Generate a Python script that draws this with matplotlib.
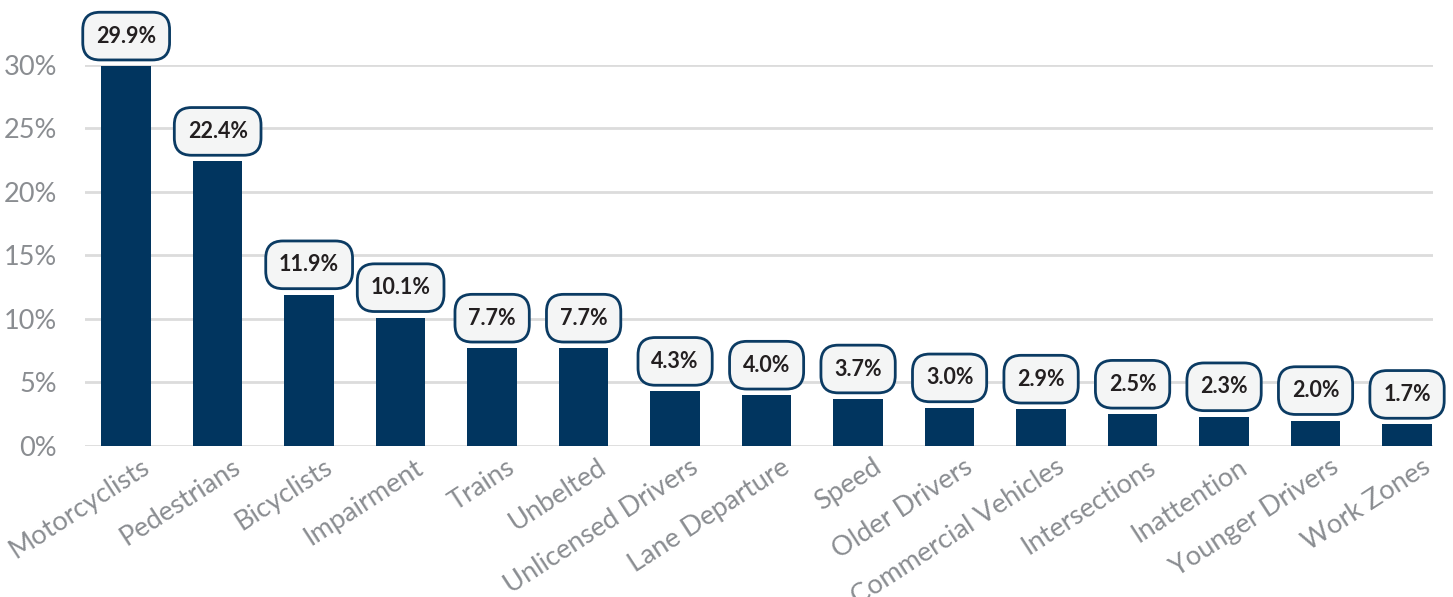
import matplotlib.pyplot as plt
from matplotlib.ticker import FuncFormatter
from matplotlib.transforms import ScaledTranslation

plt.rcParams['font.family'] = ['Lato', 'DejaVu Sans']

categories = ['Motorcyclists', 'Pedestrians', 'Bicyclists', 'Impairment', 'Trains',
              'Unbelted', 'Unlicensed Drivers', 'Lane Departure', 'Speed', 'Older Drivers',
              'Commercial Vehicles', 'Intersections', 'Inattention', 'Younger Drivers', 'Work Zones']
shares = [29.9, 22.4, 11.9, 10.1, 7.7, 7.7, 4.3, 4.0, 3.7, 3.0, 2.9, 2.5, 2.3, 2.0, 1.7]
yticks = [0, 5, 10, 15, 20, 25, 30]

navy = '#01355f'
grey_txt = '#8a8d91'

fig = plt.figure(figsize=(14.53, 5.97), dpi=100)
ax = fig.add_axes([0.0585, 0.2529, 0.9275, 0.6385])

x = range(len(categories))
ax.bar(x, shares, width=0.54, color=navy, zorder=2)

# value bubbles above each bar
for i, v in zip(x, shares):
    ax.annotate(f'{v:.1f}%', xy=(i, v), xytext=(0, 30), textcoords='offset pixels',
                ha='center', va='center', fontsize=15.5, fontweight='bold', color='#231f20',
                bbox=dict(boxstyle='round,pad=0.62,rounding_size=0.8', fc='#f4f5f5',
                          ec='#0b3b63', lw=2),
                annotation_clip=False, zorder=5)

ax.set_xlim(-0.45, 14.28)
ax.set_ylim(0, 30.0)
ax.set_yticks(yticks)
ax.yaxis.set_major_formatter(FuncFormatter(lambda v, p: f'{v:.0f}%'))
ax.grid(axis='y', color='#dcdcdc', lw=2, zorder=0)
ax.set_axisbelow(True)
for s in ax.spines.values():
    s.set_visible(False)

ax.set_xticks(list(x))
ax.set_xticklabels(categories, rotation=33, ha='right', rotation_mode='anchor')
ax.tick_params(axis='both', length=0, colors=grey_txt)
ax.tick_params(axis='x', pad=6, labelsize=19.5)
ax.tick_params(axis='y', pad=20, labelsize=19.5)

# shift category labels a little to the right of their bars
shift = ScaledTranslation(0.14, 0, fig.dpi_scale_trans)
for lbl in ax.get_xticklabels():
    lbl.set_transform(lbl.get_transform() + shift)

fig.savefig('out.png', dpi=100)
